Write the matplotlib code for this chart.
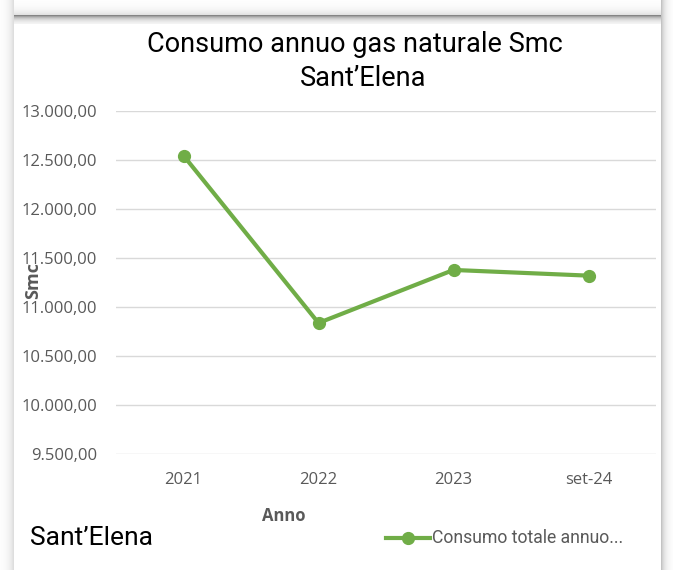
import numpy as np
import matplotlib
matplotlib.use('Agg')
import matplotlib.pyplot as plt
from matplotlib.ticker import FuncFormatter, MultipleLocator

anni = ['2021', '2022', '2023', 'set-24']
consumo = [12545, 10837, 11378, 11320]

W, H = 673, 570
verde = '#70AD47'
grigio = '#595959'

fig = plt.figure(figsize=(W / 100, H / 100), dpi=100)

# cornice con ombra (solo effetto grafico)
bg = fig.add_axes([0, 0, 1, 1])
xx, yy = np.meshgrid(np.arange(W), np.arange(H))
x0, y0, x1 = 14, 15, 660
sh = np.zeros((H, W))
sh = np.where(xx < x0, 0.16 * np.exp(-(x0 - xx) / 5.0), sh)
sh = np.where((yy < y0) & (xx >= x0), 0.14 * np.exp(-(y0 - yy) / 5.0), sh)
sh = np.where(xx > x1, 0.30 * np.exp(-(xx - x1) / 4.0), sh)
top = (yy >= y0) & (yy < y0 + 9) & (xx >= x0) & (xx <= x1)
sh = np.where(top, 0.48 * np.exp(-(yy - y0) / 3.5), sh)
img = 1 - sh
bg.imshow(img, cmap='gray', vmin=0, vmax=1, extent=[0, W, H, 0], aspect='auto')
bg.set_xlim(0, W)
bg.set_ylim(H, 0)
bg.axis('off')

ax = fig.add_axes([116 / W, 1 - 454 / H, (656 - 116) / W, (454 - 111) / H])
ax.patch.set_alpha(0)
x = np.arange(len(anni))
ax.plot(x, consumo, color=verde, lw=3, marker='o', ms=8.5, zorder=3)
ax.set_xlim(-0.5, len(anni) - 0.5)
ax.set_ylim(9500, 13000)
ax.yaxis.set_major_locator(MultipleLocator(500))
ax.yaxis.set_major_formatter(FuncFormatter(
    lambda v, p: f'{v:,.2f}'.replace(',', 'X').replace('.', ',').replace('X', '.')))
ax.set_xticks(x)
ax.set_xticklabels(anni)
ax.grid(axis='y', color='#D9D9D9', lw=1)
ax.set_axisbelow(True)
for s in ax.spines.values():
    s.set_visible(False)
ax.tick_params(length=0, colors=grigio, labelsize=12)
ax.tick_params(axis='y', pad=13.5)
ax.tick_params(axis='x', pad=13)
for lab in ax.get_xticklabels() + ax.get_yticklabels():
    lab.set_fontfamily('Open Sans')

fig.text(355 / W, 1 - 45 / H, 'Consumo annuo gas naturale Smc', ha='center', va='center',
         fontsize=19.5, family='Roboto', color='black')
fig.text(363 / W, 1 - 78 / H, 'Sant\u2019Elena', ha='center', va='center',
         fontsize=19.5, family='Roboto', color='black')
fig.text(33 / W, 1 - 281 / H, 'Smc', rotation=90, ha='center', va='center',
         fontsize=13, fontweight='bold', family='Open Sans', color=grigio)
fig.text(284 / W, 1 - 516 / H, 'Anno', ha='center', va='center',
         fontsize=12, fontweight='bold', family='Open Sans', color=grigio)
fig.text(30 / W, 1 - 538 / H, 'Sant\u2019Elena', ha='left', va='center',
         fontsize=19, family='Roboto', color='black')

# legenda
leg_ax = fig.add_axes([0, 0, 1, 1])
leg_ax.set_xlim(0, W)
leg_ax.set_ylim(H, 0)
leg_ax.axis('off')
leg_ax.plot([386, 430], [538, 538], color=verde, lw=3)
leg_ax.plot([408], [538], color=verde, marker='o', ms=8.5)
leg_ax.text(432, 538, 'Consumo totale annuo...', ha='left', va='center',
            fontsize=12.7, family='Roboto', color=grigio)

fig.savefig('out.png', dpi=100)
